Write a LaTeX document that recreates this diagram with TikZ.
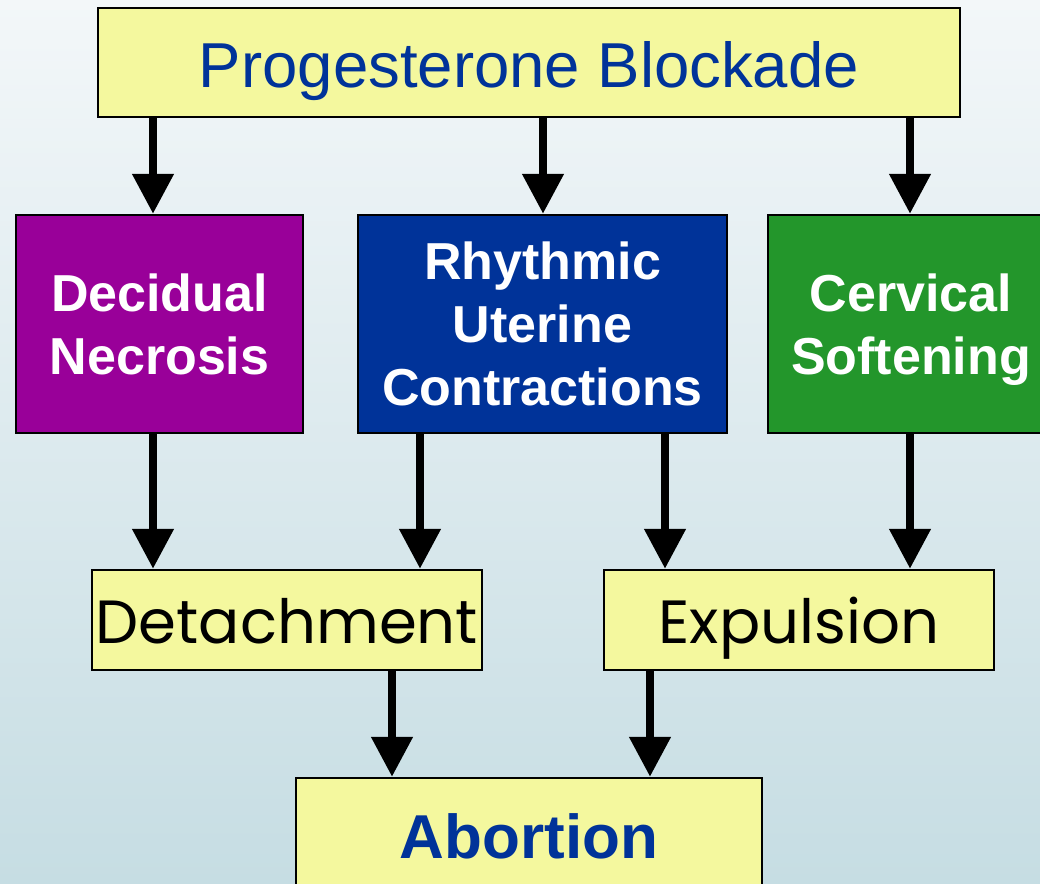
\documentclass[tikz,border=0pt]{standalone}
\usepackage{fontspec}
\setmainfont{Liberation Sans}
\newfontfamily\gothic{Poppins}
\usetikzlibrary{arrows.meta}
\definecolor{boxyellow}{HTML}{F4F89E}
\definecolor{dpurple}{HTML}{990099}
\definecolor{dblue}{HTML}{003399}
\definecolor{dgreen}{HTML}{23962B}
\definecolor{bgtop}{HTML}{F3F7F9}
\definecolor{bgbot}{HTML}{C6DDE3}
\tikzset{
  box/.style={draw=black, line width=2.5pt, inner sep=0pt, align=center},
  ybox/.style={box, fill=boxyellow},
  cbox/.style={box, text=white, font=\bfseries\fontsize{52}{63}\selectfont},
  gbox/.style={ybox, minimum width=390pt, minimum height=100pt, font=\gothic\fontsize{61}{64}\selectfont, text height=56pt, text depth=10pt},
  arr/.style={line width=8pt, -{Triangle[width=40pt,length=40pt]}}
}
\begin{document}
\begin{tikzpicture}[x=1pt,y=-1pt]
\clip (0,0) rectangle (1040,883);
\shade[top color=bgtop, bottom color=bgbot] (0,0) rectangle (1040,883);
\node[ybox, minimum width=862pt, minimum height=109pt, text=dblue, font=\fontsize{63.5}{70}\selectfont, text height=59pt, text depth=10pt] (top) at (529,62.5) {Progesterone Blockade};
\node[cbox, fill=dpurple, minimum width=287pt, minimum height=218pt] (dec) at (159.5,324) {Decidual\\Necrosis};
\node[cbox, fill=dblue, minimum width=369pt, minimum height=218pt] (rhy) at (542.5,324) {Rhythmic\\Uterine\\Contractions};
\node[cbox, fill=dgreen, minimum width=286pt, minimum height=218pt, text depth=0pt] (cer) at (911,324) {Cervical\\Softening};
\node[gbox] (det) at (287,620) {Detachment};
\node[gbox] (exp) at (799,620) {Expulsion};
\node[ybox, minimum width=466pt, minimum height=116pt, text=dblue, font=\bfseries\fontsize{62}{70}\selectfont] (abo) at (529,836) {Abortion};
\draw[arr] (top.south -| 153,0) -- (dec.north -| 153,0);
\draw[arr] (top.south -| 543,0) -- (rhy.north -| 543,0);
\draw[arr] (top.south -| 910,0) -- (cer.north -| 910,0);
\draw[arr] (dec.south -| 153,0) -- (det.north -| 153,0);
\draw[arr] (rhy.south -| 420,0) -- (det.north -| 420,0);
\draw[arr] (rhy.south -| 665,0) -- (exp.north -| 665,0);
\draw[arr] (cer.south -| 910,0) -- (exp.north -| 910,0);
\draw[arr] (det.south -| 392,0) -- (abo.north -| 392,0);
\draw[arr] (exp.south -| 650,0) -- (abo.north -| 650,0);
\end{tikzpicture}
\end{document}
